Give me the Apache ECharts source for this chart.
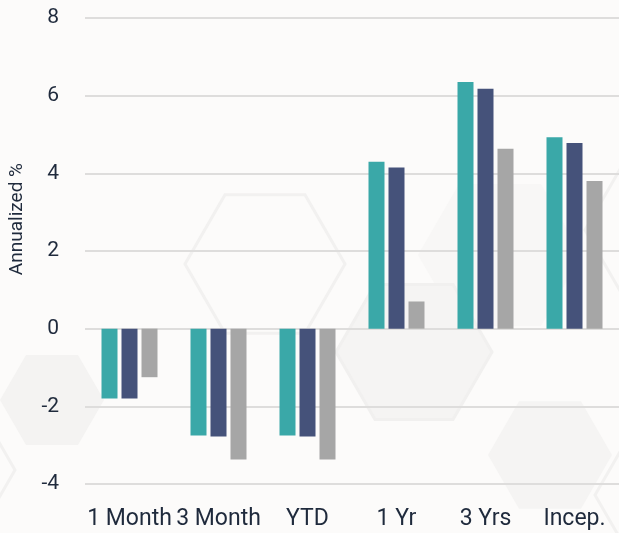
<!DOCTYPE html>
<html>
<head>
<meta charset="utf-8">
<script src="https://cdn.jsdelivr.net/npm/echarts@6/dist/echarts.min.js"></script>
<style>
  html, body { margin: 0; padding: 0; background: #fcfbfa; }
  #main { width: 619px; height: 533px; }
</style>
</head>
<body>
<div id="main"></div>
<script>
var categories = ['1 Month', '3 Month', 'YTD', '1 Yr', '3 Yrs', 'Incep.'];
var fundValues = [-1.8, -2.75, -2.75, 4.3, 6.35, 4.93];
var benchValues = [-1.8, -2.78, -2.78, 4.15, 6.18, 4.78];
var peerValues = [-1.25, -3.37, -3.37, 0.7, 4.63, 3.8];

// hexagon decoration, flat top
function hex(cx, cy, r) {
    var h = r * 0.866;
    return [[cx - r / 2, cy - h], [cx + r / 2, cy - h], [cx + r, cy], [cx + r / 2, cy + h], [cx - r / 2, cy + h], [cx - r, cy]];
}
var deco = [
    { type: 'polygon', shape: { points: hex(265, 264, 80) }, style: { fill: 'none', stroke: '#f2f1f0', lineWidth: 3 }, z: -10 },
    { type: 'polygon', shape: { points: hex(414, 352, 78) }, style: { fill: '#f5f4f3', stroke: '#f1f0ef', lineWidth: 3 }, z: -10 },
    { type: 'polygon', shape: { points: hex(52, 400, 52) }, style: { fill: '#f4f3f2' }, z: -10 },
    { type: 'polygon', shape: { points: hex(550, 455, 62) }, style: { fill: '#f5f4f3' }, z: -10 },
    { type: 'polygon', shape: { points: hex(500, 255, 82) }, style: { fill: '#f8f7f6' }, z: -11 },
    { type: 'polygon', shape: { points: hex(660, 230, 75) }, style: { fill: 'none', stroke: '#f2f1f0', lineWidth: 3 }, z: -10 },
    { type: 'polygon', shape: { points: hex(665, 495, 70) }, style: { fill: 'none', stroke: '#f2f1f0', lineWidth: 3 }, z: -10 },
    { type: 'polygon', shape: { points: hex(-40, 470, 55) }, style: { fill: 'none', stroke: '#f2f1f0', lineWidth: 3 }, z: -10 }
];

var chart = echarts.init(document.getElementById('main'));
chart.setOption({
    backgroundColor: '#fcfbfa',
    animation: false,
    graphic: deco.concat([{
        type: 'text',
        left: 8,
        top: 163,
        rotation: Math.PI / 2,
        style: {
            text: 'Annualized %',
            font: '19px Roboto',
            fill: '#1f2a3c'
        }
    }]),
    grid: { left: 85, right: 0, top: 18, bottom: 49 },
    xAxis: {
        type: 'category',
        data: categories,
        axisLine: { show: false },
        axisTick: { show: false },
        axisLabel: { color: '#1f2a3c', fontSize: 23, fontFamily: 'Roboto', margin: 24, interval: 0 }
    },
    yAxis: {
        type: 'value',
        min: -4,
        max: 8,
        interval: 2,
        axisLine: { show: false },
        axisTick: { show: false },
        axisLabel: { color: '#1f2a3c', fontSize: 21, fontFamily: 'Roboto', margin: 26 },
        splitLine: { lineStyle: { color: '#dedddc', width: 2 } }
    },
    series: [
        { type: 'bar', data: fundValues, barWidth: 16, barGap: '25%', itemStyle: { color: '#3aa8a8' } },
        { type: 'bar', data: benchValues, barWidth: 16, barGap: '25%', itemStyle: { color: '#45527a' } },
        { type: 'bar', data: peerValues, barWidth: 16, barGap: '25%', itemStyle: { color: '#a6a6a6' } }
    ]
});
</script>
</body>
</html>
